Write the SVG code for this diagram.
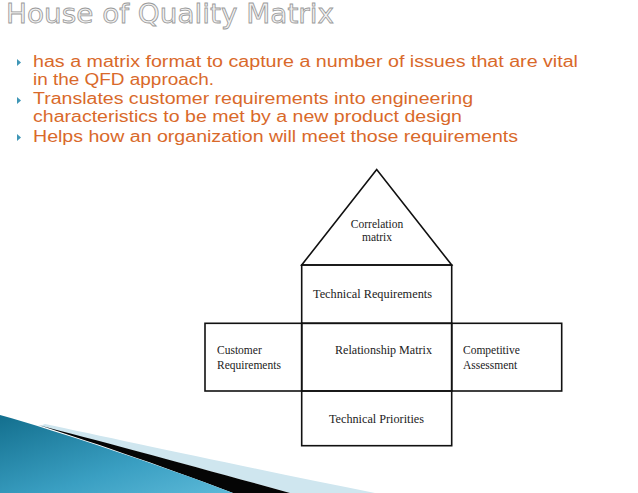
<svg xmlns="http://www.w3.org/2000/svg" width="638" height="493" viewBox="0 0 638 493">
<defs>
<linearGradient id="blueGrad" x1="0" y1="0" x2="1" y2="1">
<stop offset="0" stop-color="#136f8e"/>
<stop offset="0.6" stop-color="#3a9fc2"/>
<stop offset="1" stop-color="#5cb9d8"/>
</linearGradient>
<style>
.title{font-family:"DejaVu Sans","Open Sans",sans-serif;font-size:26px;fill:#f2f2f2;stroke:#9a9a9a;stroke-width:0.8px}
.bul{font-family:"Liberation Sans",Arial,sans-serif;font-size:16px;fill:#d9692a}
.tri{fill:#3f96b6}
.box{fill:none;stroke:#111;stroke-width:1.6}
.lbl{font-family:"Liberation Serif","Times New Roman",serif;font-size:11.5px;fill:#222}
.mid{text-anchor:middle}
</style>
</defs>
<rect width="638" height="493" fill="#ffffff"/>
<g id="title">
<text class="title" x="6" y="23" textLength="328" lengthAdjust="spacingAndGlyphs">House of Quality Matrix</text>
</g>
<g id="bullets">
<polygon class="tri" points="17,59 21,62.5 17,66"/>
<polygon class="tri" points="17,97 21,100.5 17,104"/>
<polygon class="tri" points="17,134 21,137.5 17,141"/>
<text class="bul" x="33" y="67" textLength="545" lengthAdjust="spacingAndGlyphs">has a matrix format to capture a number of issues that are vital</text>
<text class="bul" x="33" y="85" textLength="181" lengthAdjust="spacingAndGlyphs">in the QFD approach.</text>
<text class="bul" x="33" y="104" textLength="440" lengthAdjust="spacingAndGlyphs">Translates customer requirements into engineering</text>
<text class="bul" x="33" y="122" textLength="429" lengthAdjust="spacingAndGlyphs">characteristics to be met by a new product design</text>
<text class="bul" x="33" y="142" textLength="485" lengthAdjust="spacingAndGlyphs">Helps how an organization will meet those requirements</text>
</g>
<g id="swoosh">
<path d="M45,424 C120,440 260,470 375,493 L290,493 C200,468 100,442 40,426 Z" fill="#cfe6ef"/>
<path d="M38,425 C100,441 200,468 290,493 L233,493 C160,465 80,438 38,425 Z" fill="#050505"/>
<path d="M0,415 C60,432 160,465 233,493 L0,493 Z" fill="url(#blueGrad)"/>
</g>
<g id="correlation-matrix">
<polygon class="box" points="376.7,169.5 301.7,265 451.7,265" stroke-linejoin="miter"/>
<text class="lbl mid" x="377" y="228">Correlation</text>
<text class="lbl mid" x="377" y="241">matrix</text>
</g>
<g id="technical-requirements">
<rect class="box" x="301.7" y="265" width="150" height="58.3"/>
<text class="lbl mid" x="372.5" y="298" textLength="119" lengthAdjust="spacingAndGlyphs">Technical Requirements</text>
</g>
<g id="customer-requirements">
<rect class="box" x="205" y="323.3" width="96.7" height="67.7"/>
<text class="lbl" x="217" y="354">Customer</text>
<text class="lbl" x="217" y="369">Requirements</text>
</g>
<g id="relationship-matrix">
<rect class="box" x="301.7" y="323.3" width="150" height="67.7"/>
<text class="lbl mid" x="383.5" y="354" textLength="97" lengthAdjust="spacingAndGlyphs">Relationship Matrix</text>
</g>
<g id="competitive-assessment">
<rect class="box" x="451.7" y="323.3" width="110" height="67.7"/>
<text class="lbl" x="463" y="354">Competitive</text>
<text class="lbl" x="463" y="369">Assessment</text>
</g>
<g id="technical-priorities">
<rect class="box" x="301.7" y="391" width="150" height="54.7"/>
<text class="lbl mid" x="376.5" y="423" textLength="95" lengthAdjust="spacingAndGlyphs">Technical Priorities</text>
</g>
</svg>
